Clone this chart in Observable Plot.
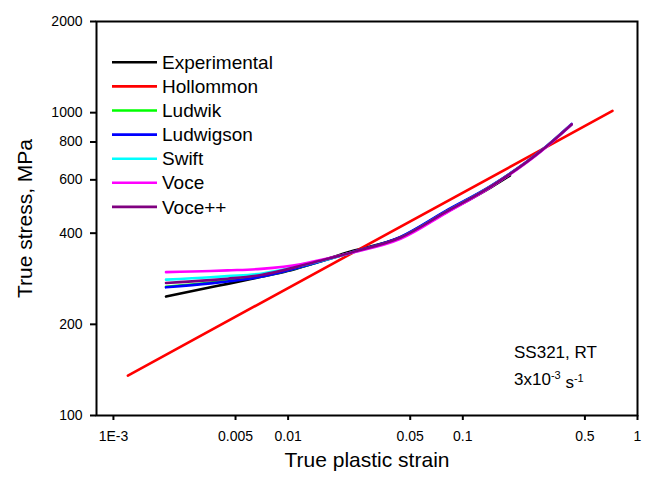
<!DOCTYPE html>
<html>
<head>
<meta charset="utf-8">
<script src="https://cdn.jsdelivr.net/npm/d3@7"></script>
<script src="https://cdn.jsdelivr.net/npm/@observablehq/plot@0.6"></script>
<style>
  html, body { margin: 0; padding: 0; background: white; }
</style>
</head>
<body>
<div id="chart"></div>
<script>
// ---- data ----
const seriesNames = ["Experimental", "Hollommon", "Ludwik", "Ludwigson", "Swift", "Voce", "Voce++"];
const seriesColors = ["#000000", "#ff0000", "#00ff00", "#0000ff", "#00ffff", "#ff00ff", "#800080"];

const expStrain = [0.002, 0.0036, 0.0045, 0.007, 0.0099, 0.0135, 0.0228, 0.044, 0.08, 0.145, 0.186];
const expStress = [247, 265, 272, 287, 300, 316, 348, 387, 468, 567, 620];

const hollStrain = [0.00121, 0.719];
const hollStress = [135.5, 1013];

const modelStrain = [0.002, 0.0036, 0.0045, 0.007, 0.0118, 0.0135, 0.0228, 0.044, 0.08, 0.145, 0.28, 0.42];
const ludwikStress    = [266, 275, 279, 288, 309, 316, 345, 388, 472, 572, 747, 916];
const ludwigsonStress = [265, 273, 277, 287, 309, 316, 345, 389, 474, 573, 748, 918];
const swiftStress     = [281, 286, 288.5, 294, 312, 318, 344, 386, 470, 571, 747, 915];
const voceStress      = [297.5, 300, 301.5, 305, 316, 321, 344, 383, 466, 569, 745, 914];
const voceppStress    = [274, 280, 283, 291, 312, 318.5, 345, 387, 470, 571, 747, 915];

const xTicks = [0.001, 0.005, 0.01, 0.05, 0.1, 0.5, 1];
const xTickLabels = ["1E-3", "0.005", "0.01", "0.05", "0.1", "0.5", "1"];
const yTicks = [100, 200, 400, 600, 800, 1000, 2000];
const yTickLabels = ["100", "200", "400", "600", "800", "1000", "2000"];

const xTitle = "True plastic strain";
const yTitle = "True stress, MPa";
const noteLine1 = "SS321, RT";

// ---- build tables ----
const toRows = (xs, ys, name) => xs.map((x, i) => ({strain: x, stress: ys[i], series: name}));
const seriesData = [
  toRows(expStrain, expStress, seriesNames[0]),
  toRows(hollStrain, hollStress, seriesNames[1]),
  toRows(modelStrain, ludwikStress, seriesNames[2]),
  toRows(modelStrain, ludwigsonStress, seriesNames[3]),
  toRows(modelStrain, swiftStress, seriesNames[4]),
  toRows(modelStrain, voceStress, seriesNames[5]),
  toRows(modelStrain, voceppStress, seriesNames[6])
];
const font = "'Liberation Sans', Arial, Helvetica, sans-serif";

const chart = Plot.plot({
  width: 647,
  height: 480,
  marginLeft: 96,
  marginRight: 10,
  marginTop: 21,
  marginBottom: 65,
  style: {fontFamily: font, fontSize: "14px", background: "white", color: "black", overflow: "visible"},
  x: {type: "log", domain: [0.0008, 1]},
  y: {type: "log", domain: [100, 2000]},
  color: {domain: seriesNames, range: seriesColors},
  marks: [
    Plot.axisX({ticks: xTicks, text: null, tickSize: 5, strokeWidth: 2, label: null}),
    Plot.axisY({ticks: yTicks, text: null, tickSize: 6, strokeWidth: 2, label: null}),
    Plot.text(xTicks, {x: d => d, frameAnchor: "bottom", lineAnchor: "top", dy: 16,
      text: (d, i) => xTickLabels[i], fontSize: 14, fill: "black", textAnchor: "middle"}),
    Plot.text(yTicks, {y: d => d, frameAnchor: "left", dx: -14,
      text: (d, i) => yTickLabels[i], fontSize: 14, fill: "black", textAnchor: "end"}),
    ...seriesData.map(rows => Plot.line(rows, {
      x: "strain", y: "stress", stroke: "series",
      strokeWidth: 2.6, strokeLinecap: "round", strokeLinejoin: "round", curve: "monotone-x"
    })),
    Plot.frame({strokeWidth: 2, stroke: "black"}),
    Plot.text([xTitle], {frameAnchor: "bottom", dy: 51, text: d => d, fontSize: 21, fill: "black", textAnchor: "middle"}),
    Plot.text([yTitle], {frameAnchor: "left", dx: -71, rotate: -90, text: d => d, fontSize: 21, fill: "black", textAnchor: "middle"})
  ]
});

document.getElementById("chart").appendChild(chart);

// ---- legend (inside plot, top-left) ----
const svg = d3.select(chart);
const leg = svg.append("g").attr("font-family", font).attr("font-size", 19).attr("text-anchor", "start");
seriesNames.forEach((name, i) => {
  const yy = 62.3 + i * 24.1;
  leg.append("line").attr("x1", 112).attr("x2", 157).attr("y1", yy).attr("y2", yy)
    .attr("stroke", seriesColors[i]).attr("stroke-width", 2.6);
  leg.append("text").attr("x", 162).attr("y", yy).attr("dy", "0.35em").attr("fill", "black").text(name);
});

// ---- annotation ----
const note = svg.append("g").attr("font-family", font).attr("font-size", 17).attr("fill", "black").attr("text-anchor", "start");
note.append("text").attr("x", 514).attr("y", 352).attr("dy", "0.35em").text(noteLine1);
const t2 = note.append("text").attr("x", 514).attr("y", 379).attr("dy", "0.35em");
t2.append("tspan").text("3x10");
t2.append("tspan").attr("font-size", 11).attr("dy", "-0.55em").text("-3");
t2.append("tspan").attr("dy", "0.55em").text(" s");
t2.append("tspan").attr("font-size", 11).attr("dy", "-0.55em").text("-1");
</script>
</body>
</html>
